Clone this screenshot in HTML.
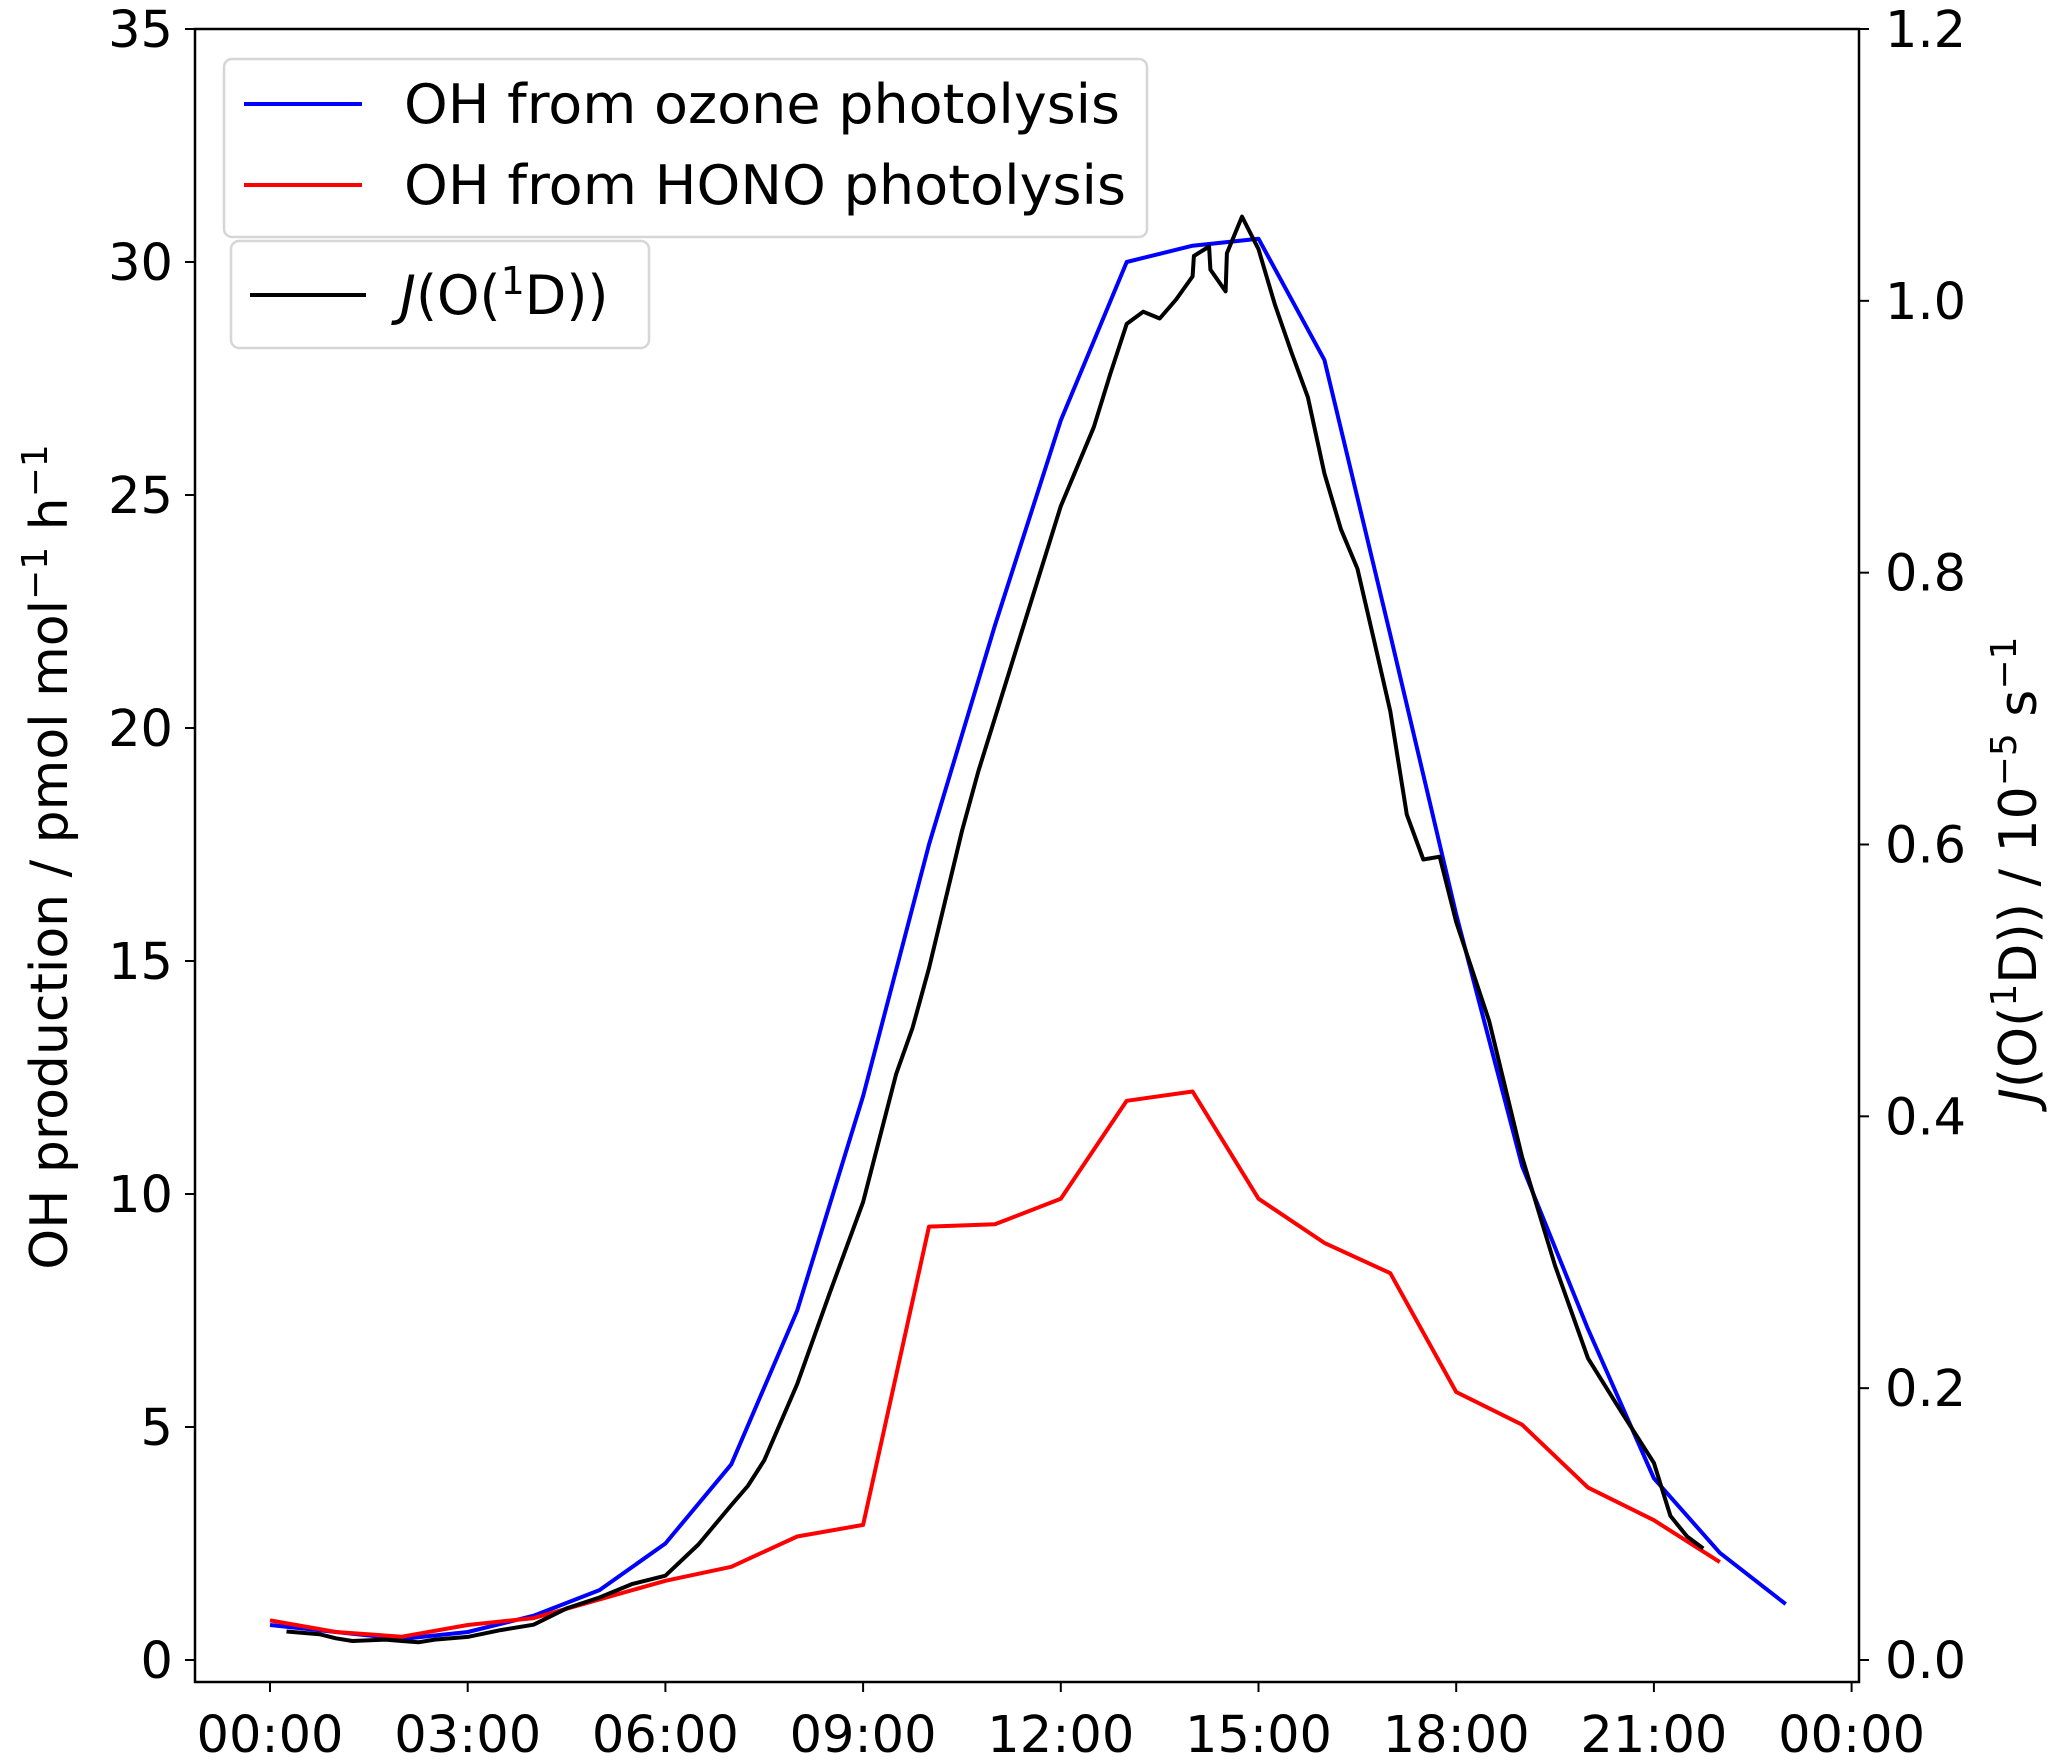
<!DOCTYPE html>
<html><head><meta charset="utf-8"><style>
html,body{margin:0;padding:0;background:#fff;}
svg{display:block;font-family:"DejaVu Sans","Liberation Sans",sans-serif;}
</style></head><body>
<svg id="chart" width="2067" height="1764" viewBox="0 0 2067 1764" xmlns="http://www.w3.org/2000/svg">
<g id="marks"></g>
<g id="axes"></g>
<g id="legend"></g>
</svg>
<script>
const hoursHourly = [0,1,2,3,4,5,6,7,8,9,10,11,12,13,14,15,16,17,18,19,20,21,22,23];
const ozoneOH = [0.75,0.6,0.45,0.6,0.95,1.5,2.5,4.2,7.5,12.1,17.5,22.2,26.6,30.0,30.35,30.5,27.9,22,16,10.6,7.1,3.9,2.3,1.2];
const hoursHono = [0,1,2,3,4,5,6,7,8,9,10,11,12,13,14,15,16,17,18,19,20,21,22];
const honoOH = [0.85,0.6,0.5,0.75,0.9,1.3,1.7,2.0,2.65,2.9,9.3,9.35,9.9,12.0,12.2,9.9,8.95,8.3,5.75,5.05,3.7,3.0,2.1];
const hoursJ = [0.25,0.75,1.0,1.25,1.75,2.0,2.25,2.5,3.0,3.5,4.0,4.5,5.0,5.5,6.0,6.5,7.0,7.25,7.5,8.0,8.5,9.0,9.5,9.75,10.0,10.5,10.75,11.0,11.5,12.0,12.5,12.75,13.0,13.25,13.5,13.75,14.0,14.02,14.25,14.27,14.5,14.52,14.75,15.0,15.25,15.5,15.75,16.0,16.25,16.5,16.75,17.0,17.25,17.5,17.75,18.0,18.5,19.0,19.5,20.0,20.5,21.0,21.25,21.5,21.75];
const jO1D = [0.021,0.019,0.016,0.014,0.015,0.014,0.013,0.015,0.017,0.022,0.026,0.038,0.046,0.056,0.062,0.085,0.114,0.128,0.147,0.203,0.271,0.337,0.431,0.465,0.509,0.61,0.654,0.693,0.771,0.849,0.907,0.946,0.983,0.992,0.987,1.001,1.018,1.033,1.04,1.023,1.007,1.035,1.062,1.038,0.997,0.962,0.929,0.873,0.832,0.803,0.751,0.698,0.622,0.589,0.591,0.543,0.47,0.37,0.29,0.222,0.183,0.145,0.106,0.091,0.082];
const leftTicks = [0,5,10,15,20,25,30,35];
const rightTicks = [0.0,0.2,0.4,0.6,0.8,1.0,1.2];
const xTickHours = [0,3,6,9,12,15,18,21,24];
const xTickLabels = ["00:00","03:00","06:00","09:00","12:00","15:00","18:00","21:00","00:00"];

const NS="http://www.w3.org/2000/svg";
const L=195,R=1859,T=29,B=1682;
const X0=270,XH=65.9,Y0=1660;
function x(h){return X0+XH*h;}
function yL(v){return Y0-(Y0-T)*v/35;}
function yR(v){return Y0-(Y0-T)*v/1.2;}
function mk(tag,attrs,parent){const e=document.createElementNS(NS,tag);for(const k in attrs)e.setAttribute(k,attrs[k]);parent.appendChild(e);return e;}
const marks=document.getElementById('marks'),axes=document.getElementById('axes'),legend=document.getElementById('legend');

function line(xs,ys,fy,color,name){
  const pts=xs.map((h,i)=>x(h).toFixed(1)+","+fy(ys[i]).toFixed(1)).join(" ");
  const p=mk('polyline',{points:pts,fill:'none',stroke:color,'stroke-width':4,'stroke-linejoin':'round'},marks);
  
  
}
line(hoursHourly,ozoneOH,yL,'#0000ff','ozone-oh-line');
line(hoursHono,honoOH,yL,'#ff0000','hono-oh-line');
line(hoursJ,jO1D,yR,'#000000','j-o1d-line');

const fr=mk('rect',{x:L,y:T,width:R-L,height:B-T,fill:'none',stroke:'#000','stroke-width':2.5},axes);



const FS=51;
leftTicks.forEach(v=>{
  const yy=yL(v);
  mk('line',{x1:L-10,x2:L,y1:yy,y2:yy,stroke:'#000','stroke-width':2},axes);
  const t=mk('text',{x:L-22,y:yy+18,'text-anchor':'end','font-size':FS},axes);
  t.textContent=String(v);
  
  
});
rightTicks.forEach(v=>{
  const yy=yR(v);
  mk('line',{x1:R,x2:R+10,y1:yy,y2:yy,stroke:'#000','stroke-width':2},axes);
  const t=mk('text',{x:R+26,y:yy+18,'text-anchor':'start','font-size':FS},axes);
  t.textContent=v.toFixed(1);
  
  
});
xTickHours.forEach((h,i)=>{
  const xx=x(h);
  mk('line',{x1:xx,x2:xx,y1:B,y2:B+10,stroke:'#000','stroke-width':2},axes);
  const t=mk('text',{x:xx,y:1752,'text-anchor':'middle','font-size':FS},axes);
  t.textContent=xTickLabels[i];
  
  
});

const yl=mk('text',{x:0,y:0,'text-anchor':'middle','font-size':52,transform:'translate(67,857) rotate(-90)'},axes);
yl.innerHTML='OH production / pmol mol<tspan dy="-20" font-size="36">−1</tspan><tspan dy="20"> h</tspan><tspan dy="-20" font-size="36">−1</tspan>';


const yr=mk('text',{x:0,y:0,'text-anchor':'middle','font-size':52,transform:'translate(2036,870) rotate(-90)'},axes);
yr.innerHTML='<tspan font-style="italic">J</tspan>(O(<tspan dy="-20" font-size="36">1</tspan><tspan dy="20">D))  /  10</tspan><tspan dy="-20" font-size="36">−5</tspan><tspan dy="20"> s</tspan><tspan dy="-20" font-size="36">−1</tspan>';



const b1=mk('rect',{x:224,y:59,width:923,height:178,rx:8,fill:'#fff','fill-opacity':0.8,stroke:'#d6d6d6','stroke-width':2.5},legend);


function entry(y,color,txt,name,len){
  mk('line',{x1:244,x2:362,y1:y,y2:y,stroke:color,'stroke-width':4},legend);
  const t=mk('text',{x:404,y:y+19,'font-size':54,textLength:len,lengthAdjust:'spacingAndGlyphs'},legend);
  t.textContent=txt;
  
  
}
entry(104,'#0000ff','OH from ozone photolysis','legend-entry-ozone',716);
entry(185,'#ff0000','OH from HONO photolysis','legend-entry-hono',722);
const b2=mk('rect',{x:231,y:241,width:418,height:107,rx:8,fill:'#fff','fill-opacity':0.8,stroke:'#d6d6d6','stroke-width':2.5},legend);


mk('line',{x1:250,x2:366,y1:295,y2:295,stroke:'#000','stroke-width':4},legend);
const tj=mk('text',{x:400,y:314,'font-size':54},legend);
tj.innerHTML='<tspan font-style="italic">J</tspan>(O(<tspan dy="-20" font-size="38">1</tspan><tspan dy="20">D))</tspan>';


</script>
</body></html>
